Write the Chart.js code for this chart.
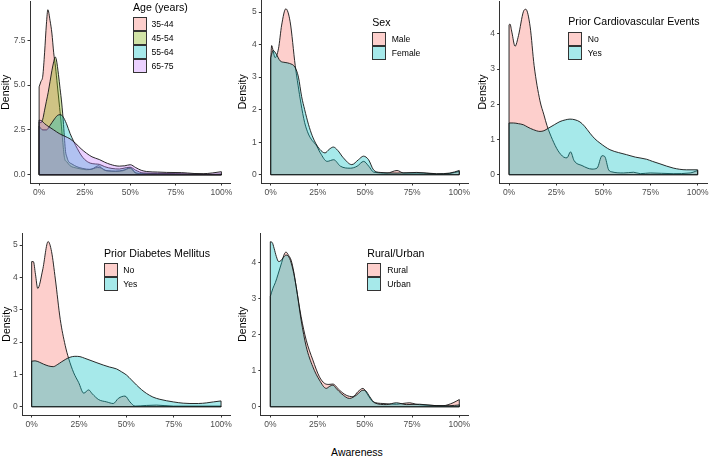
<!DOCTYPE html>
<html>
<head>
<meta charset="utf-8">
<script src="https://cdn.jsdelivr.net/npm/chart.js@4.4.1/dist/chart.umd.min.js"></script>
<style>
  html, body { margin: 0; padding: 0; background: #ffffff; }
  body { width: 709px; height: 458px; position: relative; overflow: hidden;
         font-family: 'Liberation Sans', Arial, sans-serif; }
  canvas { position: absolute; }
  .lg-title { position: absolute; font-size: 10.6px; line-height: 14px; color: #000; white-space: nowrap; }
  .lg-box { position: absolute; width: 14px; height: 14px; box-sizing: border-box; border: 1px solid #333; }
  .lg-label { position: absolute; font-size: 8.6px; line-height: 14px; color: #000; white-space: nowrap; }
  #xtitle { position: absolute; left: 0; width: 714px; top: 445px; text-align: center; font-size: 10.5px; line-height: 14px; color: #000; }
</style>
</head>
<body>
<canvas id="p1"></canvas>
<canvas id="p2"></canvas>
<canvas id="p3"></canvas>
<canvas id="p4"></canvas>
<canvas id="p5"></canvas>
<div id="xtitle">Awareness</div>
<script>
// ---------- data ----------
const awarenessTicks = [0, 25, 50, 75, 100];

// Panel 1: Age (years)
const ageGroups = ['35-44', '45-54', '55-64', '65-75'];
const age3544 = [[0,4.9],[1,5.2],[2,5.5],[3,6.8],[4,8.4],[4.8,9.2],[6,8.6],[7,7.9],[8,6.8],[9,6.0],[10,5.0],[11,4.0],[12,3.0],[13,1.8],[14,0.9],[15.2,0.72],[17,0.5],[20.7,0.37],[23,0.32],[26,0.28],[29,0.32],[32.6,0.5],[35.3,0.28],[38,0.22],[41.8,0.19],[46,0.22],[50,0.37],[52.7,0.1],[56,0.04],[65,0.03],[75,0.02],[85,0.02],[95,0.01],[100,0.01]];
const age4554 = [[0,2.95],[1,2.9],[2,3.1],[3,3.6],[4,4.1],[5,4.6],[6,5.2],[7,5.8],[8,6.3],[8.8,6.57],[9.5,6.4],[10.6,5.6],[11.5,4.8],[12.4,4.0],[13.4,2.8],[14,1.9],[14.5,1.3],[15.2,1.0],[16.1,0.75],[18,0.6],[20.7,0.45],[24,0.35],[28,0.3],[32,0.4],[34,0.38],[37,0.22],[42,0.2],[46,0.25],[50,0.38],[52.5,0.15],[56,0.06],[65,0.05],[75,0.04],[85,0.02],[95,0.02],[100,0.03]];
const age5564 = [[0,2.7],[2,2.5],[4,2.5],[6,2.75],[8,3.05],[10,3.3],[11.5,3.35],[13,3.25],[15,2.85],[17,2.3],[19,1.85],[21,1.45],[23,1.1],[25,0.85],[28,0.65],[31,0.6],[33,0.58],[36,0.45],[40,0.35],[44,0.32],[48,0.4],[50,0.42],[53,0.25],[57,0.1],[65,0.08],[75,0.06],[85,0.03],[95,0.02],[100,0.03]];
const age6575 = [[0,3.05],[1.5,3.0],[3,2.85],[5,2.7],[8,2.5],[11,2.3],[14,2.15],[17,2.0],[20,1.75],[23,1.45],[26,1.2],[29,1.0],[33,0.85],[36,0.7],[39,0.58],[44,0.48],[47,0.5],[50,0.56],[53,0.4],[56,0.25],[59,0.18],[65,0.15],[70,0.13],[78,0.12],[85,0.07],[90,0.06],[95,0.1],[100,0.17]];
const ageYTicks = [0, 2.5, 5, 7.5];

// Panel 2: Sex
const sexGroups = ['Male', 'Female'];
const sexMale = [[0,3.56],[0.5,3.97],[1.3,3.8],[2.3,3.6],[4.1,3.87],[5.8,4.6],[8,5.1],[10.3,4.7],[13,3.35],[14.5,2.75],[16,2.2],[18,1.6],[20,1.25],[22,1.05],[24,0.92],[26.3,0.67],[29.9,0.41],[33.4,0.46],[37,0.26],[42.2,0.2],[45.8,0.26],[49.3,0.41],[52,0.26],[54.6,0.08],[61.7,0.05],[67,0.13],[70.5,0.05],[81,0.05],[88,0.02],[95,0.04],[100,0.1]];
const sexFemale = [[0,3.6],[1.3,3.82],[3,3.7],[5,3.5],[7.6,3.45],[10,3.42],[12.9,3.3],[14.7,3.0],[16.4,2.4],[18,2.0],[20,1.55],[22,1.2],[24,0.95],[26,0.78],[28.8,0.67],[31,0.78],[33.2,0.85],[35.5,0.75],[38.5,0.52],[43,0.31],[46.5,0.46],[49.2,0.57],[51.9,0.46],[54.5,0.15],[58,0.07],[67,0.05],[77.5,0.07],[88,0.03],[95,0.05],[100,0.13]];
const sexYTicks = [0, 1, 2, 3, 4, 5];

// Panel 3: Prior Cardiovascular Events
const cvGroups = ['No', 'Yes'];
const cvNo = [[0,4.26],[0.5,4.28],[1.5,4.05],[3.2,3.65],[5,3.95],[7.6,4.63],[8.9,4.7],[11.2,4.2],[13.3,3.1],[16.4,2.1],[18.5,1.7],[20.1,1.4],[23,1.0],[26,0.68],[29,0.5],[30.7,0.48],[32.6,0.65],[34.5,0.4],[38.7,0.26],[44,0.16],[46.7,0.19],[49.3,0.54],[50.7,0.52],[52.8,0.14],[54.6,0.08],[60.8,0.05],[66,0.07],[69.6,0.03],[74.9,0.05],[87,0.03],[96,0.05],[100,0.12]];
const cvYes = [[0,1.47],[2.3,1.47],[5,1.45],[7.6,1.42],[10,1.35],[12.9,1.28],[16.4,1.23],[18.5,1.25],[20.8,1.32],[24,1.42],[27,1.51],[30,1.56],[32.3,1.58],[35,1.56],[37.6,1.5],[40,1.38],[42.9,1.18],[45.5,1.02],[48.2,0.9],[53.5,0.71],[58,0.63],[62.3,0.57],[67,0.5],[72.9,0.44],[76,0.38],[80,0.31],[87,0.19],[94,0.14],[100,0.14]];
const cvYTicks = [0, 1, 2, 3, 4];

// Panel 4: Prior Diabetes Mellitus
const dmGroups = ['No', 'Yes'];
const dmNo = [[0,4.49],[0.9,4.49],[2,4.1],[3.2,3.66],[5.8,4.23],[8.7,5.11],[10.5,4.8],[12.5,3.95],[15.1,2.7],[17.7,1.9],[19.5,1.5],[22.2,1.05],[24.8,0.75],[27.5,0.42],[30.1,0.52],[32,0.4],[35.4,0.22],[39.6,0.15],[43.1,0.1],[45.8,0.26],[49.3,0.33],[51.9,0.15],[54.6,0.02],[60.7,0.04],[66,0.05],[74.8,0.02],[88.9,0.02],[100,0.02]];
const dmYes = [[0,1.41],[1.8,1.42],[4,1.38],[6.2,1.32],[9,1.26],[11.4,1.24],[13.5,1.3],[15.8,1.39],[18,1.47],[20.2,1.53],[22.8,1.56],[25.5,1.55],[28,1.5],[30.8,1.44],[34,1.37],[37.8,1.29],[41,1.23],[44.8,1.17],[47.5,1.08],[50.1,0.98],[52.7,0.83],[55.4,0.67],[58,0.53],[60.7,0.41],[64,0.3],[67.7,0.23],[74.8,0.15],[80,0.11],[83.6,0.1],[88,0.1],[92.4,0.12],[96,0.15],[100,0.18]];
const dmYTicks = [0, 1, 2, 3, 4, 5];

// Panel 5: Rural/Urban
const ruGroups = ['Rural', 'Urban'];
const ruRural = [[0,3.06],[1.4,3.29],[2.7,3.45],[4,3.66],[6,4.0],[7.6,4.26],[8.4,4.29],[9.7,4.2],[11,4.07],[12.4,3.75],[13.7,3.33],[16.3,2.5],[19,1.85],[22.5,1.3],[26,0.83],[28.7,0.65],[31,0.62],[33.1,0.63],[36.6,0.46],[40.2,0.32],[43.7,0.28],[46.4,0.42],[49,0.51],[51.7,0.32],[54.3,0.14],[59.6,0.09],[66.7,0.07],[70,0.09],[73.8,0.11],[77,0.07],[80.8,0.05],[91.4,0.03],[96.7,0.11],[100,0.2]];
const ruUrban = [[0,4.58],[1,4.56],[2,4.4],[3.2,4.17],[4.4,4.03],[5.5,4.05],[7,4.15],[8.4,4.21],[10.2,4.12],[12,3.8],[13.7,3.33],[16.3,2.41],[19,1.67],[22.5,1.11],[26,0.74],[29.6,0.51],[31.5,0.57],[33.1,0.6],[35,0.5],[37.5,0.37],[41.9,0.23],[45.5,0.32],[49,0.46],[50.5,0.44],[52.6,0.28],[55.2,0.11],[61.4,0.06],[66.7,0.11],[72,0.06],[79,0.07],[87.8,0.03],[95,0.03],[100,0.05]];
const ruYTicks = [0, 1, 2, 3, 4];

// ---------- styling ----------
const FONT = "'Liberation Sans', Arial, sans-serif";
const PAL4 = ['248,118,109', '124,174,0', '0,191,196', '199,124,255'];
const PAL2 = ['248,118,109', '0,191,196'];
const FILL_ALPHA = 0.35;

const panels = [
  { id: 'p1', title: 'Age (years)', groups: ageGroups, series: [age3544, age4554, age5564, age6575], pal: PAL4, yTicks: ageYTicks, dec: 1,
    left: 0, top: 0, width: 233, height: 200, yW: 30, padTop: 1.5, padRight: 2.5, chartBottom: 183,
    lg: { x: 133, titleCY: 7, boxTop: 17.3, labelDx: 18.5 } },
  { id: 'p2', title: 'Sex', groups: sexGroups, series: [sexMale, sexFemale], pal: PAL2, yTicks: sexYTicks, dec: 0,
    left: 237, top: 0, width: 234, height: 200, yW: 24.3, padTop: 0.5, padRight: 2.3, chartBottom: 183,
    lg: { x: 372.3, titleCY: 21.7, boxTop: 31.7, labelDx: 19.4 } },
  { id: 'p3', title: 'Prior Cardiovascular Events', groups: cvGroups, series: [cvNo, cvYes], pal: PAL2, yTicks: cvYTicks, dec: 0,
    left: 477, top: 0, width: 232, height: 200, yW: 22.6, padTop: 1, padRight: 1.9, chartBottom: 183,
    lg: { x: 568.3, titleCY: 21, boxTop: 31.7, labelDx: 19.4 } },
  { id: 'p4', title: 'Prior Diabetes Mellitus', groups: dmGroups, series: [dmNo, dmYes], pal: PAL2, yTicks: dmYTicks, dec: 0,
    left: 1, top: 225, width: 232, height: 215, yW: 21.2, padTop: 8.3, padRight: 2.5, chartBottom: 190,
    lg: { x: 104, titleCY: 253.3, boxTop: 263.3, labelDx: 19.3 } },
  { id: 'p5', title: 'Rural/Urban', groups: ruGroups, series: [ruRural, ruUrban], pal: PAL2, yTicks: ruYTicks, dec: 0,
    left: 237, top: 225, width: 234, height: 215, yW: 23.85, padTop: 8.5, padRight: 2.25, chartBottom: 190,
    lg: { x: 367.3, titleCY: 252.7, boxTop: 263.3, labelDx: 20 } }
];

// draws the baseline and the two side edges of each density polygon (as ggplot does)
const edgePlugin = {
  id: 'densityEdges',
  afterDatasetDraw(chart, args) {
    const pts = args.meta.data;
    if (!pts || !pts.length) return;
    const ds = chart.data.datasets[args.index];
    const ctx = chart.ctx;
    const y0 = chart.scales.y.getPixelForValue(0);
    const a = pts[0], b = pts[pts.length - 1];
    ctx.save();
    ctx.strokeStyle = ds.borderColor;
    ctx.lineWidth = ds.borderWidth;
    ctx.beginPath();
    ctx.moveTo(a.x, a.y);
    ctx.lineTo(a.x, y0);
    ctx.lineTo(b.x, y0);
    ctx.lineTo(b.x, b.y);
    ctx.stroke();
    ctx.restore();
  }
};

function buildPanel(p) {
  const cv = document.getElementById(p.id);
  cv.width = p.width; cv.height = p.height;
  cv.style.left = p.left + 'px'; cv.style.top = p.top + 'px';
  cv.style.width = p.width + 'px'; cv.style.height = p.height + 'px';

  let maxV = 0;
  p.series.forEach(s => s.forEach(([x, y]) => { if (y > maxV) maxV = y; }));
  const yMin = -0.05 * maxV, yMax = maxV * 1.05;
  const xH = p.height - p.chartBottom;
  const n = p.series.length;

  const datasets = p.series.map((s, i) => ({
    label: p.groups[i],
    data: s.map(([x, y]) => ({ x, y })),
    backgroundColor: `rgba(${p.pal[i]},${FILL_ALPHA})`,
    borderColor: 'rgba(20,20,20,0.9)',
    borderWidth: 1,
    fill: 'origin',
    pointRadius: 0,
    cubicInterpolationMode: 'monotone',
    order: n - i
  }));

  const chart = new Chart(cv, {
    type: 'line',
    data: { datasets },
    options: {
      responsive: false,
      devicePixelRatio: 1,
      animation: false,
      events: [],
      layout: { padding: { top: p.padTop, right: p.padRight, bottom: 0, left: 0 } },
      plugins: { legend: { display: false }, tooltip: { enabled: false } },
      scales: {
        x: {
          type: 'linear', min: -5, max: 105,
          afterBuildTicks: sc => { sc.ticks = awarenessTicks.map(v => ({ value: v })); },
          afterFit: sc => { sc.height = xH; sc.paddingLeft = 0; sc.paddingRight = 0; },
          ticks: { callback: v => v + '%', color: '#4d4d4d', font: { family: FONT, size: 8.5 }, padding: 2, maxRotation: 0, autoSkip: false },
          grid: { drawOnChartArea: false, drawTicks: true, tickLength: 2.5, color: '#333', lineWidth: 1 },
          border: { display: true, color: '#333', width: 1 }
        },
        y: {
          type: 'linear', min: yMin, max: yMax,
          afterBuildTicks: sc => { sc.ticks = p.yTicks.map(v => ({ value: v })); },
          afterFit: sc => { sc.width = p.yW; sc.paddingTop = 0; sc.paddingBottom = 0; },
          ticks: { callback: v => Number(v).toFixed(p.dec), color: '#4d4d4d', font: { family: FONT, size: 8.5 }, padding: 2, autoSkip: false },
          grid: { drawOnChartArea: false, drawTicks: true, tickLength: 2.5, color: '#333', lineWidth: 1 },
          border: { display: true, color: '#333', width: 1 },
          title: { display: true, text: 'Density', color: '#000', font: { family: FONT, size: 10.5 }, padding: 0 }
        }
      }
    },
    plugins: [edgePlugin]
  });

  // legend as real text, built from the chart's own datasets
  const t = document.createElement('div');
  t.className = 'lg-title';
  t.textContent = p.title;
  t.style.left = p.lg.x + 'px';
  t.style.top = (p.lg.titleCY - 7) + 'px';
  document.body.appendChild(t);
  chart.data.datasets.forEach((ds, i) => {
    const b = document.createElement('div');
    b.className = 'lg-box';
    b.style.left = p.lg.x + 'px';
    b.style.top = (p.lg.boxTop + 14 * i) + 'px';
    b.style.background = ds.backgroundColor;
    document.body.appendChild(b);
    const l = document.createElement('div');
    l.className = 'lg-label';
    l.textContent = ds.label;
    l.style.left = (p.lg.x + p.lg.labelDx) + 'px';
    l.style.top = (p.lg.boxTop + 14 * i) + 'px';
    document.body.appendChild(l);
  });
}

panels.forEach(buildPanel);
</script>
</body>
</html>
